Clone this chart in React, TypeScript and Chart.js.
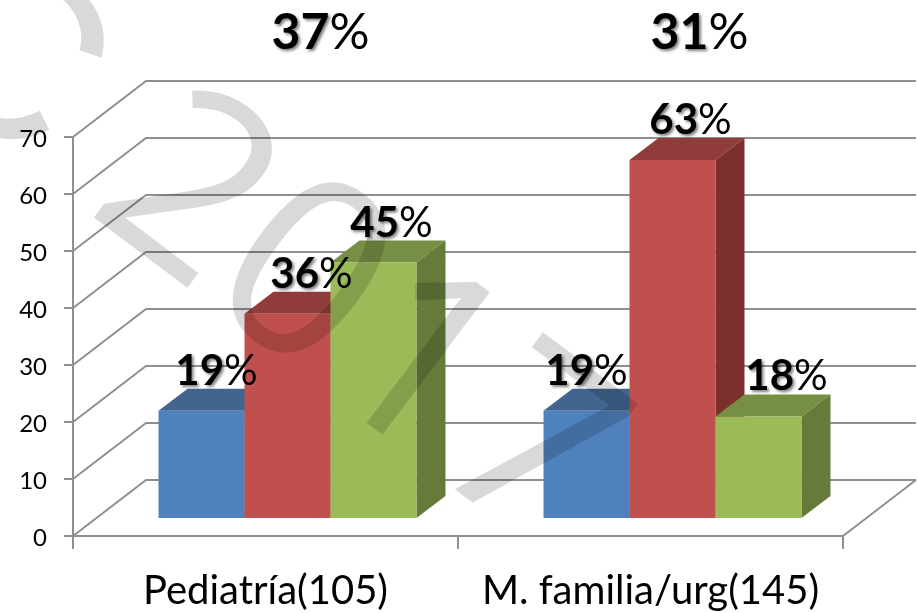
import React, { useEffect, useRef } from "react";
import { Chart, registerables } from "chart.js";

Chart.register(...registerables);

const categories = ["Pediatría(105)", "M. familia/urg(145)"];
const seriesA = [19, 19];
const seriesB = [36, 63];
const seriesC = [45, 18];
const groupTotals = ["37", "31"];
const watermarkLead = "C";
const watermarkYear = "2017";

const FONT = "Lato, 'Open Sans', sans-serif";
const WM_FONT = "'Open Sans', sans-serif";
const WM_LEAD_FONT = "'Liberation Sans', sans-serif";
const FRONT = ["#4f81bd", "#c0504d", "#9bbb59"];
const TOP = ["#41658f", "#8f3c3a", "#778f45"];
const SIDE = ["#3b5f8c", "#7b302e", "#667b3a"];
const LINE = "#8f8f8f";
// projection of the 3D box
const WALL = { dx: 73, dy: -56 };
const BAR_SHIFT = { dx: 22, dy: -17 };
const DEPTH = { dx: 29, dy: -22 };
// hand-placed label nudges: dataset -> category -> horizontal shift
const NUDGE = [[15, 0], [24, 18], [18, 28]];
const TOTAL_NUDGE = [55, 49];

function mixedText(ctx: any, num: string, cx: number, base: number, size: number) {
  ctx.textBaseline = "alphabetic";
  ctx.textAlign = "left";
  ctx.font = `700 ${size}px ${FONT}`;
  const a = ctx.measureText(num).width;
  ctx.font = `400 ${size}px ${FONT}`;
  const b = ctx.measureText("%").width;
  const x = cx - (a + b) / 2;
  ctx.save();
  ctx.fillStyle = "#000";
  ctx.shadowColor = "rgba(0,0,0,0.5)";
  ctx.shadowBlur = 3;
  ctx.shadowOffsetX = 2;
  ctx.shadowOffsetY = 2;
  ctx.font = `700 ${size}px ${FONT}`;
  ctx.fillText(num, x, base);
  ctx.restore();
  ctx.fillStyle = "#000";
  ctx.font = `400 ${size}px ${FONT}`;
  ctx.fillText("%", x + a, base);
}

const box3d = {
  id: "box3d",
  beforeDatasetsDraw(chart: any) {
    const { ctx, chartArea: c, scales } = chart;
    const y = scales.y;
    ctx.save();
    ctx.strokeStyle = LINE;
    ctx.lineWidth = 2;
    y.ticks.forEach((t: any) => {
      const p = y.getPixelForValue(t.value);
      ctx.beginPath();
      ctx.moveTo(c.left, p);
      ctx.lineTo(c.left + WALL.dx, p + WALL.dy);
      ctx.lineTo(c.right + WALL.dx, p + WALL.dy);
      ctx.stroke();
    });
    const b = y.getPixelForValue(0);
    ctx.beginPath();
    ctx.moveTo(c.right + WALL.dx, b + WALL.dy);
    ctx.lineTo(c.right, b);
    ctx.stroke();
    ctx.restore();
  },
  // the library's own pass draws last dataset first; here the boxes must go left to right
  beforeDatasetDraw() {
    return false;
  },
  afterDatasetsDraw(chart: any) {
    const { ctx } = chart;
    ctx.save();
    ctx.translate(BAR_SHIFT.dx, BAR_SHIFT.dy);
    chart.data.datasets.forEach((_: any, i: number) => {
      chart.getDatasetMeta(i).data.forEach((bar: any) => {
        const l = bar.x - bar.width / 2;
        const r = bar.x + bar.width / 2;
        const t = bar.y;
        const bt = bar.base;
        ctx.fillStyle = TOP[i];
        ctx.beginPath();
        ctx.moveTo(l, t);
        ctx.lineTo(l + DEPTH.dx, t + DEPTH.dy);
        ctx.lineTo(r + DEPTH.dx, t + DEPTH.dy);
        ctx.lineTo(r, t);
        ctx.closePath();
        ctx.fill();
        ctx.fillStyle = SIDE[i];
        ctx.beginPath();
        ctx.moveTo(r, t);
        ctx.lineTo(r + DEPTH.dx, t + DEPTH.dy);
        ctx.lineTo(r + DEPTH.dx, bt + DEPTH.dy);
        ctx.lineTo(r, bt);
        ctx.closePath();
        ctx.fill();
        bar.draw(ctx);
      });
    });
    ctx.restore();
  },
  afterDraw(chart: any) {
    const { ctx, scales } = chart;
    chart.data.datasets.forEach((ds: any, i: number) => {
      const meta = chart.getDatasetMeta(i);
      ds.data.forEach((v: number, j: number) => {
        const bar = meta.data[j];
        const cx = bar.x + BAR_SHIFT.dx + NUDGE[i][j];
        const base = bar.y + BAR_SHIFT.dy + DEPTH.dy - 4;
        mixedText(ctx, String(v), cx, base, 42);
      });
    });
    groupTotals.forEach((g, j) => {
      mixedText(ctx, g, scales.x.getPixelForValue(j) + TOTAL_NUDGE[j], 49, 50);
    });
    // watermark, over everything
    ctx.save();
    ctx.fillStyle = "rgba(0,0,0,0.15)";
    ctx.textAlign = "left";
    ctx.textBaseline = "alphabetic";
    ctx.translate(84, 210);
    ctx.rotate((37 * Math.PI) / 180);
    ctx.font = `400 250px ${WM_FONT}`;
    ctx.fillText(watermarkYear, 0, 0);
    ctx.font = `400 250px ${WM_LEAD_FONT}`;
    ctx.fillText(watermarkLead, -247, 0);
    ctx.restore();
  },
};

export default function App() {
  const ref = useRef<HTMLCanvasElement>(null);
  useEffect(() => {
    document.body.style.margin = "0";
    document.body.style.background = "#fff";
    const chart = new Chart(ref.current!, {
      type: "bar",
      data: {
        labels: categories,
        datasets: [seriesA, seriesB, seriesC].map((data, i) => ({
          data,
          backgroundColor: FRONT[i],
          borderWidth: 0,
          clip: false,
          categoryPercentage: 0.67,
          barPercentage: 1,
        })) as any,
      },
      plugins: [box3d],
      options: {
        responsive: false,
        animation: false,
        layout: { padding: { top: 137, right: 75, left: 0, bottom: 0 } },
        plugins: { legend: { display: false }, tooltip: { enabled: false }, title: { display: false } },
        scales: {
          x: {
            afterFit(s: any) { s.height = 77; },
            grid: { offset: true, drawOnChartArea: false, drawTicks: true, tickLength: 13, color: LINE, lineWidth: 2 },
            border: { display: true, color: LINE, width: 2 },
            ticks: { color: "#000", font: { family: FONT, size: 40 }, padding: 18, maxRotation: 0, autoSkip: false },
          },
          y: {
            min: 0,
            max: 70,
            afterFit(s: any) { s.width = 73; },
            grid: { drawOnChartArea: false, drawTicks: true, tickLength: 9, color: LINE, lineWidth: 2 },
            border: { display: true, color: LINE, width: 2 },
            ticks: { stepSize: 10, color: "#000", font: { family: FONT, size: 24 }, padding: 17, labelOffset: 2 },
          },
        },
      } as any,
    });
    return () => chart.destroy();
  }, []);
  return <canvas ref={ref} width={918} height={613} style={{ display: "block", width: 918, height: 613 }} />;
}
